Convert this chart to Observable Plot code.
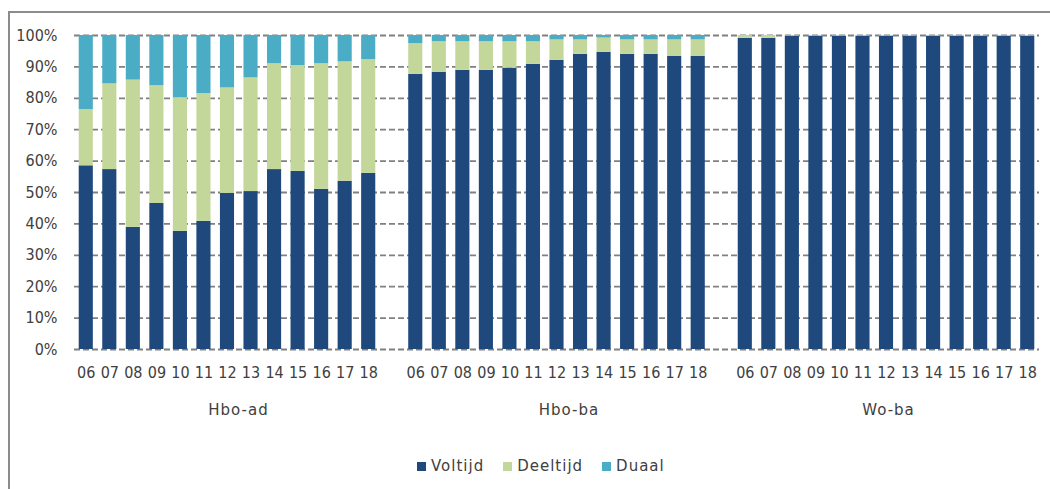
<!DOCTYPE html>
<html>
<head>
<meta charset="utf-8">
<script src="https://cdn.jsdelivr.net/npm/d3@7"></script>
<script src="https://cdn.jsdelivr.net/npm/@observablehq/plot@0.6"></script>
<style>
  html, body { margin: 0; padding: 0; background: #fff; overflow: hidden; }
  body { width: 1050px; height: 489px; position: relative; font-family: "DejaVu Sans", sans-serif; }
  #frame { position: absolute; left: 8px; top: 11px; width: 1042px; height: 478px; border-left: 2px solid #8c8c8c; border-top: 2px solid #8c8c8c; box-sizing: border-box; pointer-events: none; }
  #chart { position: relative; }
  #legend { display: flex; justify-content: flex-start; align-items: center; padding-left: 417px; margin-top: 26px; height: 20px; font-size: 15px; letter-spacing: 1px; color: #404040; }
  .item { display: flex; align-items: center; margin-right: 19px; }
  .sw { width: 9px; height: 9px; margin-right: 5px; }
</style>
</head>
<body>
<div id="frame"></div>
<div id="chart"></div>
<div id="legend"></div>
<script>
const years = ["06","07","08","09","10","11","12","13","14","15","16","17","18"];
const groups = ["Hbo-ad","Hbo-ba","Wo-ba"];
const series = ["Voltijd","Deeltijd","Duaal"];
const colors = ["#1F497D","#C4D79B","#4BACC6"];
const yTicks = [0,10,20,30,40,50,60,70,80,90,100];

const hboadVoltijd  = [58.5,57.3,38.9,46.5,37.6,40.8,49.7,50.3,57.3,56.7,51.0,53.6,56.1];
const hboadDeeltijd = [17.9,27.3,46.9,37.5,42.6,40.7,33.6,36.2,33.7,33.7,40.0,38.0,36.2];
const hboadDuaal    = [23.6,15.4,14.2,16.0,19.8,18.5,16.7,13.5, 9.0, 9.6, 9.0, 8.4, 7.7];

const hbobaVoltijd  = [87.6,88.3,88.9,88.9,89.6,90.8,92.1,94.0,94.6,94.0,94.0,93.4,93.4];
const hbobaDeeltijd = [ 9.8, 9.7, 9.1, 9.1, 8.4, 7.2, 6.5, 4.6, 4.6, 4.6, 4.6, 5.2, 5.2];
const hbobaDuaal    = [ 2.6, 2.0, 2.0, 2.0, 2.0, 2.0, 1.4, 1.4, 0.8, 1.4, 1.4, 1.4, 1.4];

const wobaVoltijd   = [99.1,99.1,99.8,99.8,99.8,99.8,99.8,99.8,99.8,99.8,99.8,99.8,99.8];
const wobaDeeltijd  = [ 0.9, 0.9, 0.2, 0.2, 0.2, 0.2, 0.2, 0.2, 0.2, 0.2, 0.2, 0.2, 0.2];
const wobaDuaal     = [ 0, 0, 0, 0, 0, 0, 0, 0, 0, 0, 0, 0, 0];

const groupData = {
  "Hbo-ad": [hboadVoltijd, hboadDeeltijd, hboadDuaal],
  "Hbo-ba": [hbobaVoltijd, hbobaDeeltijd, hbobaDuaal],
  "Wo-ba":  [wobaVoltijd, wobaDeeltijd, wobaDuaal]
};

// build table
const rows = [];
groups.forEach(g => {
  groupData[g].forEach((vals, si) => {
    years.forEach((yr, i) => {
      rows.push({key: g + "|" + yr, group: g, year: yr, series: series[si], value: vals[i]});
    });
  });
});

// x domain with one empty slot between groups
const xDomain = [];
groups.forEach((g, gi) => {
  years.forEach(yr => xDomain.push(g + "|" + yr));
  if (gi < groups.length - 1) xDomain.push("gap" + gi);
});
const xTicks = xDomain.filter(k => !k.startsWith("gap"));
const groupLabelOffsets = [11, 12, 2];

const plot = Plot.plot({
  width: 1050,
  height: 430,
  marginLeft: 74,
  marginRight: 11,
  marginTop: 35,
  marginBottom: 81,
  style: {fontFamily: "DejaVu Sans Condensed", fontSize: "16px", color: "#404040", background: "transparent", overflow: "visible"},
  x: {domain: xDomain, paddingInner: 0.4, paddingOuter: 0.2, round: false, axis: null, label: null},
  y: {domain: [0, 100], axis: null, label: null},
  color: {domain: series, range: colors},
  marks: [
    Plot.gridY(yTicks, {stroke: "#808080", strokeOpacity: 1, strokeWidth: 1.8, strokeDasharray: "6,3"}),
    Plot.barY(rows, Plot.stackY({order: series}, {x: "key", y: "value", z: "series", fill: "series"})),
    Plot.axisY(yTicks, {tickSize: 0, tickPadding: 17, tickFormat: d => d + "%", fontSize: 16, label: null}),
    Plot.axisX(xTicks, {tickSize: 0, tickPadding: 17, tickFormat: k => k.split("|")[1], fontSize: 16, label: null}),
    ...groups.map((g, i) => Plot.text([g], {
      x: d => d + "|12", y: () => 0, text: d => d, dy: 61, dx: groupLabelOffsets[i],
      fontSize: 15, fontFamily: "DejaVu Sans", fill: "#404040",
      style: "letter-spacing:1px"
    }))
  ]
});
document.getElementById("chart").appendChild(plot);
// letter spacing for group labels
plot.querySelectorAll("g[aria-label='text'] text").forEach(t => t.setAttribute("letter-spacing", "1"));

const legend = document.getElementById("legend");
series.forEach((s, i) => {
  const item = document.createElement("div");
  item.className = "item";
  const sw = document.createElement("span");
  sw.className = "sw";
  sw.style.background = colors[i];
  const t = document.createElement("span");
  t.textContent = s;
  item.appendChild(sw);
  item.appendChild(t);
  legend.appendChild(item);
});
</script>
</body>
</html>
